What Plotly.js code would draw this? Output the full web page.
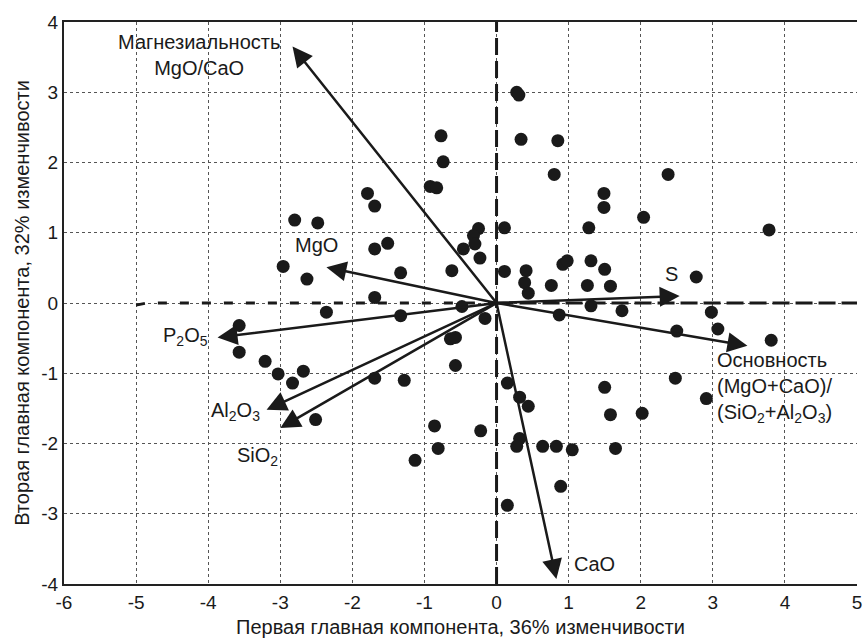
<!DOCTYPE html>
<html>
<head>
<meta charset="utf-8">
<script src="https://cdn.plot.ly/plotly-3.0.1.min.js"></script>
<style>html,body{margin:0;padding:0;background:#fff;}#chart{width:865px;height:639px;}</style>
</head>
<body>
<div id="chart"></div>
<script>
// Scores (PC1, PC2) of samples
const pc1 = [0.28,0.31,0.34,0.85,0.80,-0.77,-0.74,-0.92,-0.83,-1.79,-1.69,-2.80,-2.48,2.38,1.49,1.49,2.04,
  -2.96,-2.63,-1.69,-1.51,-1.33,-2.36,-1.69,-1.33,-0.62,-0.46,-0.25,-0.32,-0.30,-0.23,0.11,0.11,0.41,0.39,0.44,0.76,
  0.92,0.98,-0.48,-0.16,0.87,-0.64,-0.57,-0.57,-3.03,-2.68,-2.83,-1.69,-1.28,0.15,0.32,0.44,-2.51,-3.57,-3.57,-3.21,
  1.28,3.78,1.31,1.50,1.26,1.58,2.77,1.31,1.74,2.98,3.07,2.50,3.81,2.48,2.91,1.50,1.58,2.02,
  -0.86,-0.81,-1.13,-0.22,0.32,0.28,0.64,0.83,1.05,0.89,0.15,1.65];
const pc2 = [3.00,2.96,2.33,2.31,1.83,2.38,2.01,1.66,1.64,1.56,1.38,1.18,1.14,1.83,1.56,1.36,1.22,
  0.52,0.34,0.77,0.85,0.43,-0.13,0.08,-0.18,0.46,0.77,1.06,0.96,0.84,0.64,1.07,0.45,0.46,0.29,0.14,0.25,
  0.55,0.60,-0.05,-0.22,-0.17,-0.51,-0.49,-0.89,-1.01,-0.97,-1.14,-1.07,-1.10,-1.14,-1.34,-1.47,-1.66,-0.32,-0.70,-0.83,
  1.07,1.04,0.60,0.48,0.25,0.24,0.37,-0.04,-0.11,-0.13,-0.37,-0.40,-0.53,-1.07,-1.36,-1.20,-1.59,-1.57,
  -1.75,-2.07,-2.24,-1.82,-1.93,-2.04,-2.04,-2.04,-2.09,-2.61,-2.88,-2.07];

// Loadings (arrows)
const vecNames = ["Магнезиальность<br>MgO/CaO","MgO","P<sub>2</sub>O<sub>5</sub>","Al<sub>2</sub>O<sub>3</sub>",
  "SiO<sub>2</sub>","CaO","S","Основность<br>(MgO+CaO)/<br>(SiO<sub>2</sub>+Al<sub>2</sub>O<sub>3</sub>)"];
const vecX = [-2.83,-2.36,-3.87,-3.19,-3.00,0.83,2.54,3.48];
const vecY = [3.65,0.51,-0.49,-1.52,-1.78,-3.93,0.10,-0.61];

const xTicks = [-6,-5,-4,-3,-2,-1,0,1,2,3,4,5];
const xTickLabels = ["-6","-5","-4","-3","-2","-1","0","1","2","3","4","5"];
const yTicks = [-4,-3,-2,-1,0,1,2,3,4];
const yTickLabels = ["-4","-3","-2","-1","0","1","2","3","4"];

const xTitle = "Первая главная компонента, 36% изменчивости";
const yTitle = "Вторая главная компонента, 32% изменчивости";

// label placement (data coords) for each vector label
const labelPos = [
  {x:-4.13, y:3.53, xa:"center", ya:"middle", al:"center"},
  {x:-2.50, y:0.83, xa:"center", ya:"middle", al:"center"},
  {x:-4.32, y:-0.47, xa:"center", ya:"middle", al:"center"},
  {x:-3.62, y:-1.55, xa:"center", ya:"middle", al:"center"},
  {x:-3.31, y:-2.19, xa:"center", ya:"middle", al:"center"},
  {x:1.36, y:-3.71, xa:"center", ya:"middle", al:"center"},
  {x:2.42, y:0.41, xa:"center", ya:"middle", al:"center"},
  {x:3.03, y:-0.62, xa:"left", ya:"top", al:"left"}
];

const ink = "#1a1a1a";
const traces = [
  {x:[-5,-4.85,0], y:[-0.03,0,0], mode:"lines", line:{color:ink, width:3, dash:"9px,13px"}, hoverinfo:"skip", showlegend:false},
  {x:[0,5], y:[0,0], mode:"lines", line:{color:ink, width:3, dash:"17px,6px"}, hoverinfo:"skip", showlegend:false},
  {x:[0,0], y:[-4,4], mode:"lines", line:{color:ink, width:3, dash:"17px,6px"}, hoverinfo:"skip", showlegend:false},
  {x:pc1, y:pc2, mode:"markers", marker:{color:ink, size:13}, showlegend:false}
];

const annotations = [];
vecX.forEach((vx, i) => {
  annotations.push({x:vx, y:vecY[i], ax:0, ay:0, xref:"x", yref:"y", axref:"x", ayref:"y",
    text:"", showarrow:true, arrowhead:2, arrowsize:1.6, arrowwidth:2.5, arrowcolor:ink, standoff:0});
});
vecNames.forEach((t, i) => {
  const p = labelPos[i];
  annotations.push({x:p.x, y:p.y, xref:"x", yref:"y", text:t, showarrow:false,
    xanchor:p.xa, yanchor:p.ya, align:p.al, font:{size:20, color:ink}});
});

const axisCommon = {showgrid:true, gridcolor:"#555", griddash:"dot", gridwidth:1, zeroline:false,
  showline:true, linecolor:"#222", linewidth:2, ticks:"", tickfont:{size:19, color:ink}};

const layout = {
  width:865, height:639,
  margin:{l:64, r:8, t:22, b:55},
  paper_bgcolor:"#fff", plot_bgcolor:"#fff",
  font:{family:"Liberation Sans, Arial, sans-serif", color:ink},
  xaxis:Object.assign({}, axisCommon, {range:[-6,5], tickvals:xTicks, ticktext:xTickLabels, mirror:true,
    title:{text:xTitle, font:{size:20}, standoff:8}}),
  yaxis:Object.assign({}, axisCommon, {range:[-4,4], tickvals:yTicks, ticktext:yTickLabels,
    title:{text:yTitle, font:{size:20}, standoff:6}}),
  annotations:annotations,
  showlegend:false
};

Plotly.newPlot("chart", traces, layout, {displayModeBar:false, staticPlot:true});
</script>
</body>
</html>
